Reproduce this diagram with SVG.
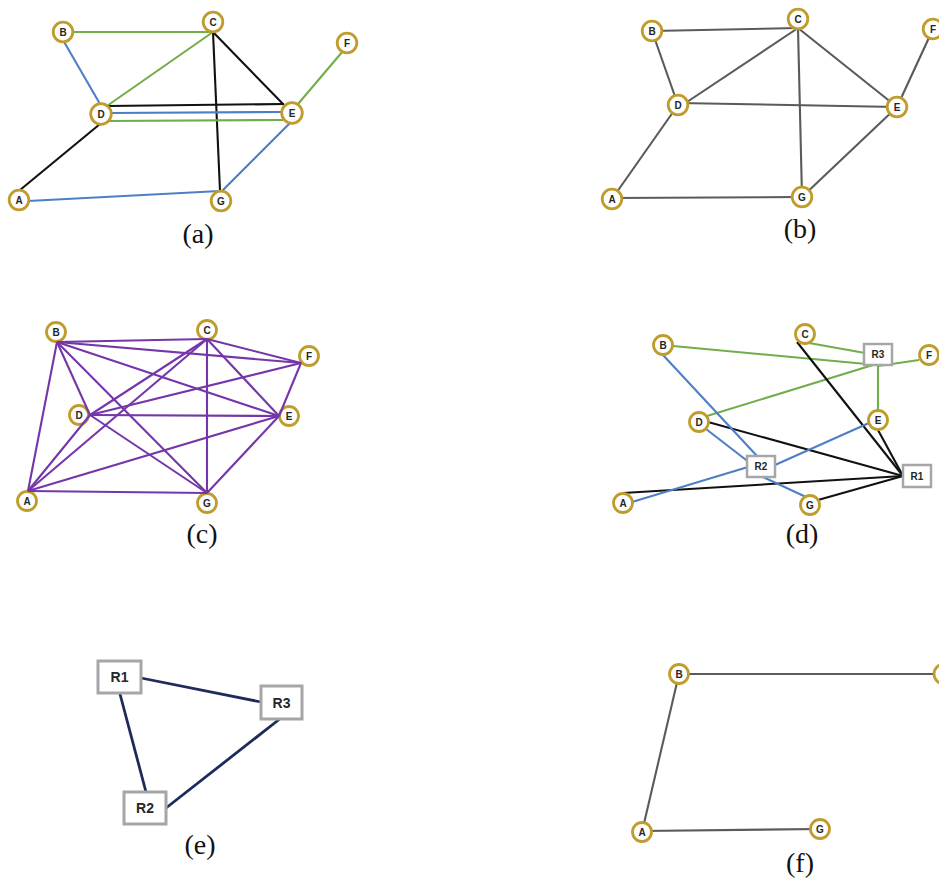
<svg xmlns="http://www.w3.org/2000/svg" width="939" height="879" viewBox="0 0 939 879">
<style>
.nd circle{fill:#fff;stroke:#BF9C2C;stroke-width:2.8}
.nd text,.rt text{font-family:"Liberation Sans",Arial,sans-serif;font-weight:bold;font-size:10px;fill:#262626;text-anchor:middle}
.rt rect{fill:#fff;stroke:#A6A6A6;stroke-width:2.5}
.rt.big text{font-size:14px}
.rt.big rect{stroke-width:3}
.cap{font-family:"Liberation Serif","Times New Roman",serif;font-size:28px;fill:#111;text-anchor:middle}
.e line{fill:none;stroke-width:2.1}
.g{stroke:#72AD4B}
.b{stroke:#4E7FC4}
.k{stroke:#111}
.y{stroke:#5A5A5A}
.p{stroke:#7436A8}
.e line.n{stroke:#1D2B5A;stroke-width:2.8}
</style>
<rect width="939" height="879" fill="#fff"/>

<!-- Panel (a) -->
<g id="a-edges" class="e">
<line class="g" x1="63" y1="32" x2="213" y2="32"/>
<line class="b" x1="63" y1="40" x2="100" y2="104"/>
<line class="g" x1="213" y1="32" x2="104" y2="108"/>
<line class="k" x1="213" y1="32" x2="284" y2="105"/>
<line class="k" x1="213" y1="32" x2="220" y2="191"/>
<line class="k" x1="108" y1="106" x2="284" y2="104"/>
<line class="b" x1="110" y1="113" x2="283" y2="112"/>
<line class="g" x1="108" y1="121" x2="283" y2="120"/>
<line class="g" x1="298" y1="104" x2="343" y2="51"/>
<line class="k" x1="100" y1="124" x2="20" y2="190"/>
<line class="b" x1="28" y1="201" x2="220" y2="191"/>
<line class="b" x1="290" y1="123" x2="222" y2="191"/>
</g>
<g id="a-B" class="nd"><circle cx="63" cy="32" r="9.8"/><text x="63" y="35.5">B</text></g>
<g id="a-C" class="nd"><circle cx="213" cy="22" r="9.8"/><text x="213" y="25.5">C</text></g>
<g id="a-F" class="nd"><circle cx="347" cy="43" r="9.8"/><text x="347" y="46.5">F</text></g>
<g id="a-D" class="nd"><circle cx="101" cy="114" r="10.3"/><text x="101" y="117.5">D</text></g>
<g id="a-E" class="nd"><circle cx="292" cy="113" r="10.3"/><text x="292" y="116.5">E</text></g>
<g id="a-A" class="nd"><circle cx="19" cy="200" r="9.8"/><text x="19" y="203.5">A</text></g>
<g id="a-G" class="nd"><circle cx="221" cy="201" r="9.8"/><text x="221" y="204.5">G</text></g>
<text class="cap" x="198" y="243">(a)</text>

<!-- Panel (b) -->
<g id="b-edges" class="e">
<line class="y" x1="652" y1="31" x2="798" y2="28"/>
<line class="y" x1="652" y1="31" x2="678" y2="105"/>
<line class="y" x1="798" y1="28" x2="684" y2="104"/>
<line class="y" x1="798" y1="28" x2="897" y2="107"/>
<line class="y" x1="798" y1="28" x2="802" y2="197"/>
<line class="y" x1="678" y1="103" x2="897" y2="107"/>
<line class="y" x1="897" y1="107" x2="933" y2="29"/>
<line class="y" x1="678" y1="105" x2="612" y2="199"/>
<line class="y" x1="612" y1="198" x2="802" y2="197"/>
<line class="y" x1="802" y1="197" x2="897" y2="107"/>
</g>
<g id="b-B" class="nd"><circle cx="652" cy="31" r="9.8"/><text x="652" y="34.5">B</text></g>
<g id="b-C" class="nd"><circle cx="798" cy="19" r="9.8"/><text x="798" y="22.5">C</text></g>
<g id="b-F" class="nd"><circle cx="933" cy="29" r="9.8"/><text x="933" y="32.5">F</text></g>
<g id="b-D" class="nd"><circle cx="678" cy="105" r="9.8"/><text x="678" y="108.5">D</text></g>
<g id="b-E" class="nd"><circle cx="897" cy="107" r="9.8"/><text x="897" y="110.5">E</text></g>
<g id="b-A" class="nd"><circle cx="612" cy="199" r="9.8"/><text x="612" y="202.5">A</text></g>
<g id="b-G" class="nd"><circle cx="802" cy="197" r="9.8"/><text x="802" y="200.5">G</text></g>
<text class="cap" x="800" y="238">(b)</text>

<!-- Panel (c) -->
<g id="c-B" class="nd"><circle cx="56" cy="332" r="9.5"/><text x="56" y="335.5">B</text></g>
<g id="c-C" class="nd"><circle cx="207" cy="330" r="9.5"/><text x="207" y="333.5">C</text></g>
<g id="c-F" class="nd"><circle cx="309" cy="356" r="9.5"/><text x="309" y="359.5">F</text></g>
<g id="c-D" class="nd"><circle cx="79" cy="415" r="9.5"/><text x="79" y="418.5">D</text></g>
<g id="c-E" class="nd"><circle cx="289" cy="416" r="9.5"/><text x="289" y="419.5">E</text></g>
<g id="c-A" class="nd"><circle cx="27" cy="501" r="9.5"/><text x="27" y="504.5">A</text></g>
<g id="c-G" class="nd"><circle cx="207" cy="503" r="9.5"/><text x="207" y="506.5">G</text></g>
<g id="c-edges" class="e">
<line class="p" x1="28" y1="491" x2="57" y2="342"/>
<line class="p" x1="28" y1="491" x2="207" y2="339"/>
<line class="p" x1="28" y1="491" x2="90" y2="415"/>
<line class="p" x1="28" y1="491" x2="279" y2="416"/>
<line class="p" x1="28" y1="491" x2="207" y2="493"/>
<line class="p" x1="57" y1="342" x2="207" y2="339"/>
<line class="p" x1="57" y1="342" x2="90" y2="415"/>
<line class="p" x1="57" y1="342" x2="279" y2="416"/>
<line class="p" x1="57" y1="342" x2="301" y2="363"/>
<line class="p" x1="57" y1="342" x2="207" y2="493"/>
<line class="p" x1="207" y1="339" x2="90" y2="415"/>
<line class="p" x1="207" y1="339" x2="279" y2="416"/>
<line class="p" x1="207" y1="339" x2="301" y2="363"/>
<line class="p" x1="207" y1="339" x2="207" y2="493"/>
<line class="p" x1="90" y1="415" x2="279" y2="416"/>
<line class="p" x1="90" y1="415" x2="301" y2="363"/>
<line class="p" x1="90" y1="415" x2="207" y2="493"/>
<line class="p" x1="279" y1="416" x2="301" y2="363"/>
<line class="p" x1="279" y1="416" x2="207" y2="493"/>
</g>
<text class="cap" x="202" y="543">(c)</text>

<!-- Panel (d) -->
<g id="d-edges" class="e">
<line class="g" x1="673" y1="346" x2="877" y2="365"/>
<line class="g" x1="809" y1="343" x2="865" y2="353"/>
<line class="g" x1="919" y1="360" x2="878" y2="366"/>
<line class="g" x1="707" y1="416" x2="873" y2="365"/>
<line class="g" x1="878" y1="365" x2="878" y2="411"/>
<line class="k" x1="797" y1="342" x2="903" y2="476"/>
<line class="k" x1="708" y1="422" x2="903" y2="476"/>
<line class="k" x1="878" y1="430" x2="903" y2="476"/>
<line class="k" x1="623" y1="493" x2="903" y2="476"/>
<line class="k" x1="818" y1="500" x2="903" y2="476"/>
<line class="b" x1="663" y1="355" x2="757" y2="456"/>
<line class="b" x1="706" y1="429" x2="750" y2="463"/>
<line class="b" x1="763" y1="477" x2="806" y2="497"/>
<line class="b" x1="632" y1="502" x2="748" y2="467"/>
<line class="b" x1="775" y1="465" x2="869" y2="423"/>
</g>
<g id="d-B" class="nd"><circle cx="663" cy="345" r="9.5"/><text x="663" y="348.5">B</text></g>
<g id="d-C" class="nd"><circle cx="805" cy="334" r="9.5"/><text x="805" y="337.5">C</text></g>
<g id="d-F" class="nd"><circle cx="929" cy="355" r="9.5"/><text x="929" y="358.5">F</text></g>
<g id="d-D" class="nd"><circle cx="699" cy="422" r="9.5"/><text x="699" y="425.5">D</text></g>
<g id="d-E" class="nd"><circle cx="878" cy="420" r="9.5"/><text x="878" y="423.5">E</text></g>
<g id="d-A" class="nd"><circle cx="623" cy="503" r="9.5"/><text x="623" y="506.5">A</text></g>
<g id="d-G" class="nd"><circle cx="810" cy="505" r="9.5"/><text x="810" y="508.5">G</text></g>
<g id="d-R3" class="rt"><rect x="864" y="344" width="28" height="21"/><text x="878" y="358">R3</text></g>
<g id="d-R2" class="rt"><rect x="747" y="456" width="28" height="21"/><text x="761" y="470">R2</text></g>
<g id="d-R1" class="rt"><rect x="903" y="465" width="28" height="22"/><text x="917" y="479.5">R1</text></g>
<text class="cap" x="802" y="543">(d)</text>

<!-- Panel (e) -->
<g id="e-edges" class="e">
<line class="n" x1="141" y1="678" x2="261" y2="702"/>
<line class="n" x1="120" y1="694" x2="146" y2="792"/>
<line class="n" x1="166" y1="808" x2="281" y2="718"/>
</g>
<g id="e-R1" class="rt big"><rect x="98" y="661" width="43" height="32"/><text x="119.5" y="682">R1</text></g>
<g id="e-R3" class="rt big"><rect x="261" y="686" width="41" height="33"/><text x="281.5" y="707.5">R3</text></g>
<g id="e-R2" class="rt big"><rect x="124" y="792" width="42" height="32"/><text x="145" y="813">R2</text></g>
<text class="cap" x="200" y="854">(e)</text>

<!-- Panel (f) -->
<g id="f-edges" class="e">
<line class="y" x1="679" y1="674" x2="944" y2="674"/>
<line class="y" x1="679" y1="674" x2="642" y2="832"/>
<line class="y" x1="642" y1="831" x2="820" y2="829"/>
</g>
<g id="f-B" class="nd"><circle cx="679" cy="674" r="9.5"/><text x="679" y="677.5">B</text></g>
<g id="f-C" class="nd"><circle cx="944" cy="674" r="10"/></g>
<g id="f-A" class="nd"><circle cx="642" cy="832" r="9.5"/><text x="642" y="835.5">A</text></g>
<g id="f-G" class="nd"><circle cx="820" cy="829" r="9.5"/><text x="820" y="832.5">G</text></g>
<text class="cap" x="800" y="872">(f)</text>
</svg>
